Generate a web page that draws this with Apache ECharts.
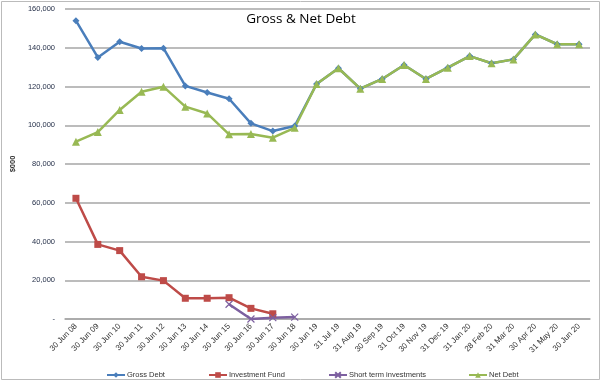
<!DOCTYPE html>
<html>
<head>
<meta charset="utf-8">
<script src="https://cdn.jsdelivr.net/npm/echarts@6/dist/echarts.min.js"></script>
<style>html,body{margin:0;padding:0;background:#fff}#c{width:602px;height:387px}</style>
</head>
<body>
<div id="c"></div>
<script>
var categories = ['30 Jun 08','30 Jun 09','30 Jun 10','30 Jun 11','30 Jun 12','30 Jun 13','30 Jun 14','30 Jun 15','30 Jun 16','30 Jun 17','30 Jun 18','30 Jun 19','31 Jul 19','31 Aug 19','30 Sep 19','31 Oct 19','30 Nov 19','31 Dec 19','31 Jan 20','28 Feb 20','31 Mar 20','30 Apr 20','31 May 20','30 Jun 20'];
var grossDebt = [154000,135000,143100,139600,139800,120300,116900,113700,101000,97000,99600,121300,129400,118900,123900,131100,123900,129700,135700,132000,134000,146900,141800,141800];
var investmentFund = [62300,38500,35300,21800,19800,10700,10700,11000,5500,2700,null,null,null,null,null,null,null,null,null,null,null,null,null,null];
var shortTermInvestments = [null,null,null,null,null,null,null,7600,0,700,1000,null,null,null,null,null,null,null,null,null,null,null,null,null];
var netDebt = [91500,96500,107900,117300,119900,109600,106100,95300,95500,93600,98700,121300,129400,118900,123900,131100,123900,129700,135700,132000,134000,146900,141800,141800];
var yTicks = {min:0, max:160000, interval:20000};

var chart = echarts.init(document.getElementById('c'), null, {renderer:'canvas'});
var font = 'Liberation Sans';
var xSym = 'path://M0,0L10,10M10,0L0,10';
function legendAt(name, left){
  return {data:[name], left:left, top:366, itemWidth:18, itemHeight:7, itemGap:0,
    textStyle:{fontFamily:font, fontSize:7.5, color:'#333', padding:[0,0,0,-3]}};
}
chart.setOption({
  animation:false,
  backgroundColor:'#fff',
  title:{text:'Gross & Net Debt', left:'center', top:7, textStyle:{fontFamily:'Open Sans', fontSize:13.5, fontWeight:'normal', color:'#000'}},
  graphic:[{type:'rect', shape:{x:1.5,y:1.5,width:598,height:378}, style:{fill:'none', stroke:'#bbb', lineWidth:1}, silent:true}],
  legend:[legendAt('Gross Debt',101), legendAt('Investment Fund',203), legendAt('Short term investments',323), legendAt('Net Debt',463)],
  grid:{left:65, right:12, top:9, bottom:68},
  xAxis:{type:'category', data:categories, boundaryGap:true,
    axisLine:{show:true, lineStyle:{color:'#a6a6a6', width:1.5}}, axisTick:{show:false},
    axisLabel:{rotate:45, interval:0, fontFamily:font, fontSize:8, color:'#333', margin:6}},
  yAxis:{type:'value', min:yTicks.min, max:yTicks.max, interval:yTicks.interval,
    name:'$000', nameLocation:'middle', nameGap:44, nameRotate:90,
    nameTextStyle:{fontFamily:font, fontSize:7.5, fontWeight:'bold', color:'#333'},
    axisLine:{show:false}, axisTick:{show:false},
    splitLine:{lineStyle:{color:'#a6a6a6', width:1.5}},
    axisLabel:{fontFamily:font, fontSize:7.5, color:'#1f2a44', margin:10,
      formatter:function(v){ return v===0 ? '-' : v.toLocaleString('en-US'); }}},
  series:[
    {name:'Gross Debt', type:'line', data:grossDebt, symbol:'diamond', symbolSize:7,
      lineStyle:{color:'#4a7ebb', width:2.5}, itemStyle:{color:'#4a7ebb'}},
    {name:'Investment Fund', type:'line', data:investmentFund, symbol:'rect', symbolSize:7,
      lineStyle:{color:'#be4b48', width:2.5}, itemStyle:{color:'#be4b48'}},
    {name:'Short term investments', type:'line', data:shortTermInvestments, symbol:xSym, symbolSize:7,
      lineStyle:{color:'#7d60a0', width:2.5}, itemStyle:{color:'#7d60a0', borderColor:'#7d60a0', borderWidth:1.2}},
    {name:'Net Debt', type:'line', data:netDebt, symbol:'triangle', symbolSize:8,
      lineStyle:{color:'#98b954', width:2.5}, itemStyle:{color:'#98b954'}}
  ]
});
</script>
</body>
</html>
